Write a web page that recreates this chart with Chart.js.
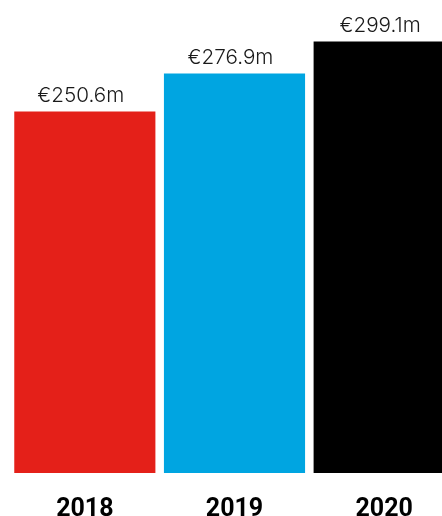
<!DOCTYPE html>
<html>
<head>
<meta charset="utf-8">
<script src="https://cdn.jsdelivr.net/npm/chart.js@4"></script>
<style>
  html, body { margin: 0; padding: 0; background: #fff; overflow: hidden; }
  #wrap { position: absolute; left: 0; top: 0; width: 459px; height: 516px; }
</style>
</head>
<body>
<div id="wrap"><canvas id="myChart" width="459" height="516"></canvas></div>
<script>
var years = ["2018", "2019", "2020"];
var revenue = [250.6, 276.9, 299.1];
var barColors = ["#E42019", "#00A5E1", "#000000"];

// value labels above each bar
const barLabels = {
    id: "barLabels",
    afterDatasetsDraw(chart) {
        const ctx = chart.ctx
        const meta = chart.getDatasetMeta(0)
        ctx.save()
        ctx.font = "300 20.7px Inter"
        ctx.fillStyle = "#1a1a1a"
        ctx.textAlign = "center"
        ctx.textBaseline = "alphabetic"
        meta.data.forEach((bar, i) => {
            ctx.fillText("€" + revenue[i].toFixed(1) + "m", bar.x - 4, bar.y - 9)
        })
        ctx.restore()
    }
}

new Chart("myChart", {
    type: "bar",
    data: {
        labels: years,
        datasets: [{
            backgroundColor: barColors,
            data: revenue,
            barPercentage: 0.943,
            categoryPercentage: 1
        }]
    },
    options: {
        responsive: false,
        animation: false,
        devicePixelRatio: 1,
        layout: { padding: { left: 10, right: 0, top: 0, bottom: 0 } },
        plugins: { legend: { display: false }, tooltip: { enabled: false } },
        scales: {
            y: { display: false, min: 0, max: 327.8 },
            x: {
                grid: { display: false },
                border: { display: false },
                afterFit: (scale) => { scale.height = 43 },
                ticks: {
                    padding: 14,
                    color: "#000",
                    font: { family: "Roboto", size: 25, weight: "bold" }
                }
            }
        }
    },
    plugins: [barLabels]
});
</script>
</body>
</html>
